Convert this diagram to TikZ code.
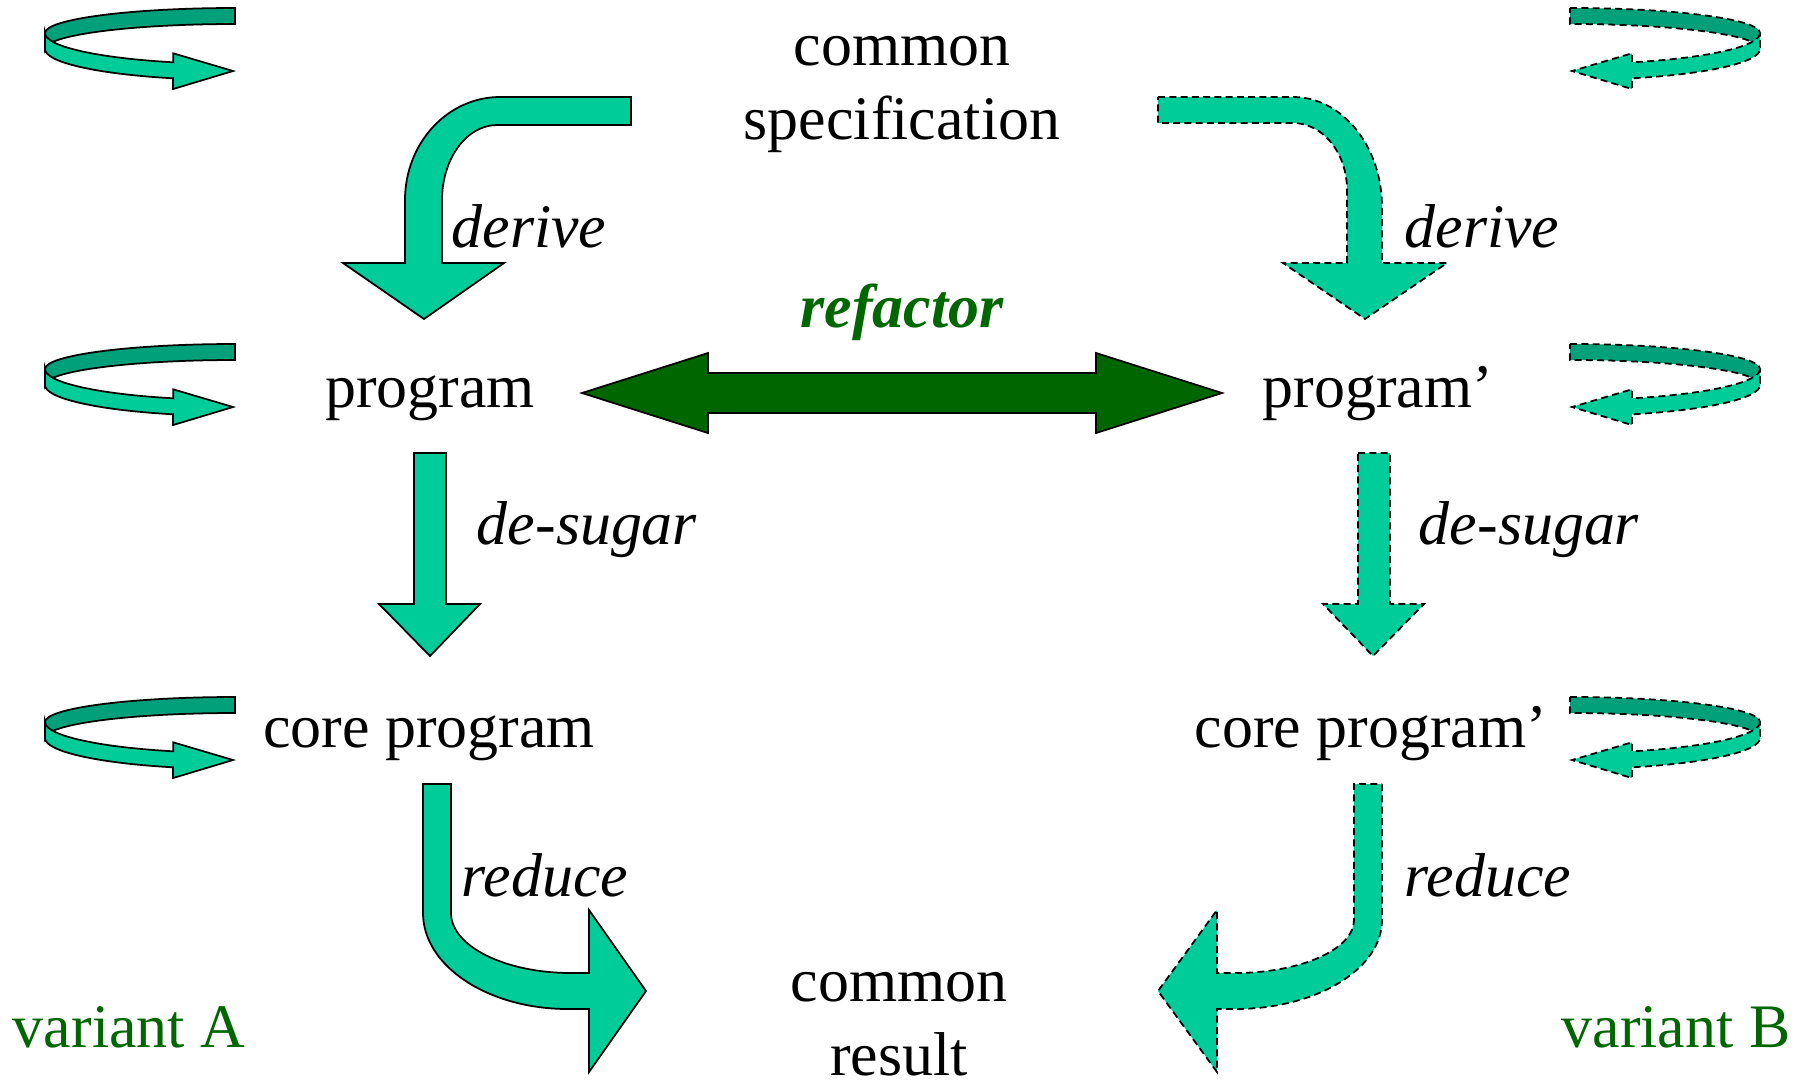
\documentclass[tikz,border=0pt]{standalone}
\usepackage{fontspec}
\setmainfont{Liberation Serif}
\usepackage{tikz}
\usetikzlibrary{positioning}

\definecolor{band}{HTML}{00CC99}
\definecolor{bandback}{HTML}{00A07A}
\definecolor{darkgreen}{HTML}{006600}
\newcommand{\diagfont}{\fontsize{17.6}{20.8}\selectfont}

\tikzset{
  blockarrow/.style={draw=black, line width=0.5pt, fill=band, line join=miter},
  dashblock/.style={blockarrow, dash pattern=on 2pt off 1.2pt},
  term/.style={anchor=base, align=center, inner sep=0pt, font=\diagfont},
  steptext/.style={term, font=\diagfont\itshape},
}

\begin{document}
\begin{tikzpicture}[x=0.01cm, y=-0.01cm]
\useasboundingbox (0,0) rectangle (1812,1081);

\foreach \dy in {0,336,689} {
  \begin{scope}[shift={(0,\dy)}]
    \draw[blockarrow, fill=bandback] (235,8) arc[start angle=270, end angle=180, x radius=190, y radius=25]
      -- ++(0,16) arc[start angle=180, end angle=270, x radius=190, y radius=25] -- cycle;
    \draw[blockarrow] (45,33) arc[start angle=180, end angle=109, x radius=190, y radius=31]
      -- ++(0,-9) -- (233,71) -- (173.1,89) -- (173.1,78.3)
      arc[start angle=109, end angle=180, x radius=190, y radius=31] -- cycle;
  \end{scope}
  \begin{scope}[shift={(1805,\dy)}, xscale=-1]
    \draw[dashblock, fill=bandback] (235,8) arc[start angle=270, end angle=180, x radius=190, y radius=25]
      -- ++(0,16) arc[start angle=180, end angle=270, x radius=190, y radius=25] -- cycle;
    \draw[dashblock] (45,33) arc[start angle=180, end angle=109, x radius=190, y radius=31]
      -- ++(0,-9) -- (233,71) -- (173.1,89) -- (173.1,78.3)
      arc[start angle=109, end angle=180, x radius=190, y radius=31] -- cycle;
  \end{scope}
}

\node[term] (spec) at (902,139) {common\\specification};
\node[term] (prog) at (430,407) {program};
\node[term] (progb) at (1378,407) {program'};
\node[term] (core) at (429,747) {core program};
\node[term] (coreb) at (1371,747) {core program'};
\node[term] (result) at (899,1075) {common\\result};
\node[term, text=darkgreen] (varA) at (129,1047) {variant A};
\node[term, text=darkgreen] (varB) at (1676,1047) {variant B};

\draw[blockarrow] (631,97) -- (500,97) arc[start angle=270, end angle=180, x radius=95, y radius=103]
  -- (405,263) -- (343,263) -- (424,319) -- (504,263) -- (442,263) -- (442,200)
  arc[start angle=180, end angle=270, x radius=55, y radius=75] -- (631,125) -- cycle;
\draw[dashblock] (1158,97) -- (1293,97) arc[start angle=270, end angle=360, x radius=89, y radius=110]
  -- (1382,263) -- (1447,263) -- (1365,319) -- (1283,263) -- (1347,263) -- (1347,190)
  arc[start angle=360, end angle=270, x radius=54, y radius=67] -- (1158,123) -- cycle;
\node[steptext] (deriveA) at (529,247) {derive};
\node[steptext] (deriveB) at (1482,247) {derive};

\draw[blockarrow, fill=darkgreen] (582,393) -- (708,353) -- (708,373) -- (1096,373) -- (1096,353)
  -- (1222,393) -- (1096,433) -- (1096,413) -- (708,413) -- (708,433) -- cycle;
\node[term, font=\diagfont\bfseries\itshape, text=darkgreen] (refactor) at (902,327) {refactor};

\draw[blockarrow] (414,453) -- (446,453) -- (446,604) -- (480,604) -- (430,656) -- (379,604) -- (414,604) -- cycle;
\draw[dashblock] (1358,453) -- (1390,453) -- (1390,604) -- (1424,604) -- (1373,656) -- (1323,604) -- (1358,604) -- cycle;
\node[steptext] (sugarA) at (587,544) {de-sugar};
\node[steptext] (sugarB) at (1529,544) {de-sugar};

\draw[blockarrow] (423,784) -- (423,913) arc[start angle=180, end angle=90, x radius=145, y radius=96]
  -- (589,1009) -- (589,1072) -- (646,991) -- (589,910) -- (589,973) -- (571,973)
  arc[start angle=90, end angle=180, x radius=120, y radius=60] -- (451,784) -- cycle;
\draw[dashblock] (1382,784) -- (1382,920) arc[start angle=0, end angle=90, x radius=147, y radius=89]
  -- (1217,1009) -- (1217,1072) -- (1158,991) -- (1217,910) -- (1217,973) -- (1235,973)
  arc[start angle=90, end angle=0, x radius=119, y radius=53] -- (1354,784) -- cycle;
\node[steptext] (reduceA) at (545,896) {reduce};
\node[steptext] (reduceB) at (1488,896) {reduce};
\end{tikzpicture}
\end{document}
